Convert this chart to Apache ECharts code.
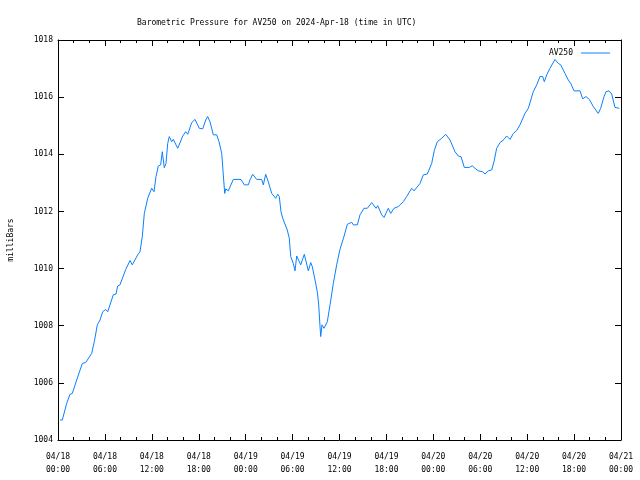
<!DOCTYPE html>
<html>
<head>
<meta charset="utf-8">
<script src="https://cdn.jsdelivr.net/npm/echarts@6/dist/echarts.min.js"></script>
<style>html,body{margin:0;padding:0;background:#fff}#c{width:640px;height:480px}</style>
</head>
<body>
<div id="c"></div>
<script>
// hours since 2024-04-18 00:00 UTC
var hours = [0.26,0.55,1.11,1.53,1.83,2.39,3.11,3.54,4.31,4.64,5.03,5.37,5.72,6.10,6.36,7.07,7.42,7.63,7.93,8.66,
9.21,9.50,10.19,10.49,10.78,11.04,11.47,11.98,12.28,12.53,12.83,13.13,13.34,13.59,13.81,14.03,14.23,14.54,14.75,15.31,
15.95,16.33,16.59,17.10,17.52,18.07,18.51,18.89,19.14,19.44,19.86,20.30,20.59,20.94,21.14,21.32,21.45,21.78,22.42,23.40,
23.83,24.34,24.55,24.90,25.41,26.05,26.26,26.56,26.89,27.33,27.53,27.84,28.10,28.30,28.52,28.74,29.32,29.58,29.76,30.09,
30.31,30.53,30.73,31.04,31.50,32.01,32.32,32.52,32.87,33.16,33.34,33.51,33.60,33.76,34.02,34.44,34.79,35.21,35.64,36.06,
36.57,37.00,37.56,37.77,38.28,38.62,39.13,39.56,40.12,40.67,40.89,41.40,41.69,42.24,42.55,42.97,43.52,44.16,44.59,45.23,
45.53,46.30,46.72,47.23,47.79,48.12,48.51,49.07,49.58,50.13,50.77,51.19,51.54,51.96,52.60,52.98,53.33,53.75,54.31,54.61,
55.03,55.46,55.76,56.10,56.53,57.04,57.38,57.81,58.23,58.66,59.08,59.72,60.15,60.78,61.22,61.64,61.99,62.19,62.50,62.92,
63.14,63.56,63.98,64.29,64.84,65.26,65.57,65.99,66.76,67.10,67.52,67.95,68.46,69.10,69.40,69.83,70.08,70.47,70.81,71.23,71.78];
var pressure = [1004.70,1004.70,1005.28,1005.60,1005.63,1006.10,1006.68,1006.71,1007.03,1007.44,1008.03,1008.20,1008.49,1008.57,1008.49,1009.08,1009.11,1009.39,1009.43,1009.97,
1010.28,1010.13,1010.48,1010.59,1011.12,1011.93,1012.46,1012.81,1012.69,1013.22,1013.59,1013.63,1014.09,1013.53,1013.68,1014.38,1014.62,1014.44,1014.52,1014.21,
1014.64,1014.79,1014.70,1015.11,1015.22,1014.91,1014.89,1015.20,1015.32,1015.14,1014.68,1014.68,1014.44,1014.03,1013.28,1012.63,1012.79,1012.72,1013.12,1013.12,
1012.93,1012.93,1013.10,1013.30,1013.12,1013.12,1012.93,1013.30,1013.04,1012.63,1012.69,1012.46,1012.60,1012.52,1011.99,1011.76,1011.35,1011.06,1010.42,1010.18,
1009.92,1010.44,1010.50,1010.13,1010.50,1009.92,1010.21,1010.07,1009.60,1009.19,1008.73,1007.97,1007.62,1008.03,1007.91,1008.14,1008.73,1009.48,1010.13,1010.67,
1011.12,1011.55,1011.62,1011.53,1011.53,1011.88,1012.11,1012.11,1012.31,1012.11,1012.20,1011.88,1011.79,1012.11,1011.93,1012.11,1012.17,1012.34,1012.52,1012.81,
1012.72,1012.98,1013.28,1013.31,1013.68,1014.13,1014.44,1014.56,1014.70,1014.50,1014.09,1013.94,1013.92,1013.54,1013.54,1013.60,1013.51,1013.42,1013.39,1013.31,
1013.42,1013.45,1013.74,1014.21,1014.41,1014.52,1014.64,1014.52,1014.73,1014.83,1015.03,1015.43,1015.61,1016.19,1016.43,1016.72,1016.72,1016.54,1016.78,1017.01,
1017.05,1017.32,1017.18,1017.13,1016.83,1016.60,1016.48,1016.22,1016.22,1015.94,1016.02,1015.92,1015.67,1015.43,1015.61,1016.02,1016.19,1016.22,1016.11,1015.64,1015.61];
var dayLabels = ['04/18','04/19','04/20','04/21'];
var titleText = 'Barometric Pressure for AV250 on 2024-Apr-18 (time in UTC)';
var seriesName = 'AV250';
var yName = 'milliBars';

var FONT = 'DejaVu Sans Mono';
var FS = 8;
var data = hours.map(function(h, i){ return [h, pressure[i]]; });
function xLabel(v){
  var d = Math.floor(v / 24 + 1e-6);
  var hh = Math.round(v - d * 24);
  return dayLabels[d] + '\n' + (hh < 10 ? '0' : '') + hh + ':00';
}
var axisLine = {show: true, onZero: false, lineStyle: {color: '#000', width: 1}};
var chart = echarts.init(document.getElementById('c'), null, {renderer: 'canvas'});
chart.setOption({
  animation: false,
  backgroundColor: '#fff',
  title: {
    text: titleText, left: 132, top: 14,
    textStyle: {fontFamily: FONT, fontSize: FS, fontWeight: 'normal', color: '#000'}
  },
  legend: {
    show: true, data: [seriesName], right: 25, top: 44, bottom: 426, left: 'auto',
    orient: 'horizontal', align: 'right',
    itemWidth: 29, itemHeight: 1, itemGap: 6,
    icon: 'rect',
    textStyle: {fontFamily: FONT, fontSize: FS, color: '#000', padding: [0, 3, 0, 0]}
  },
  grid: {left: 58, right: 19, top: 40, bottom: 40, containLabel: false, outerBoundsMode: 'none'},
  xAxis: [{
    type: 'value', min: 0, max: 72, interval: 6, position: 'bottom',
    axisLine: axisLine,
    axisTick: {show: true, inside: true, length: 6, lineStyle: {color: '#000'}},
    minorTick: {show: true, splitNumber: 3, length: 3, lineStyle: {color: '#000'}},
    splitLine: {show: false},
    axisLabel: {formatter: xLabel, fontFamily: FONT, fontSize: FS, color: '#000', margin: 10, lineHeight: 13}
  }, {
    type: 'value', min: 0, max: 72, interval: 6, position: 'top',
    axisLine: axisLine,
    axisTick: {show: true, inside: true, length: 6, lineStyle: {color: '#000'}},
    minorTick: {show: true, splitNumber: 3, length: 3, lineStyle: {color: '#000'}},
    splitLine: {show: false},
    axisLabel: {show: false}
  }],
  yAxis: [{
    type: 'value', min: 1004, max: 1018, interval: 2, position: 'left',
    name: yName, nameLocation: 'middle', nameGap: 43, nameRotate: 90,
    nameTextStyle: {fontFamily: FONT, fontSize: FS, color: '#000'},
    axisLine: axisLine,
    axisTick: {show: true, inside: true, length: 6, lineStyle: {color: '#000'}},
    splitLine: {show: false},
    axisLabel: {formatter: function(v){ return String(v); }, fontFamily: FONT, fontSize: FS, color: '#000', margin: 5}
  }, {
    type: 'value', min: 1004, max: 1018, interval: 2, position: 'right',
    axisLine: axisLine,
    axisTick: {show: true, inside: true, length: 6, lineStyle: {color: '#000'}},
    splitLine: {show: false},
    axisLabel: {show: false}
  }],
  series: [{
    name: seriesName, type: 'line', xAxisIndex: 0, yAxisIndex: 0,
    data: data, showSymbol: false, symbol: 'none',
    lineStyle: {color: '#0a80ff', width: 1},
    itemStyle: {color: '#0a80ff'}
  }]
});
</script>
</body>
</html>
